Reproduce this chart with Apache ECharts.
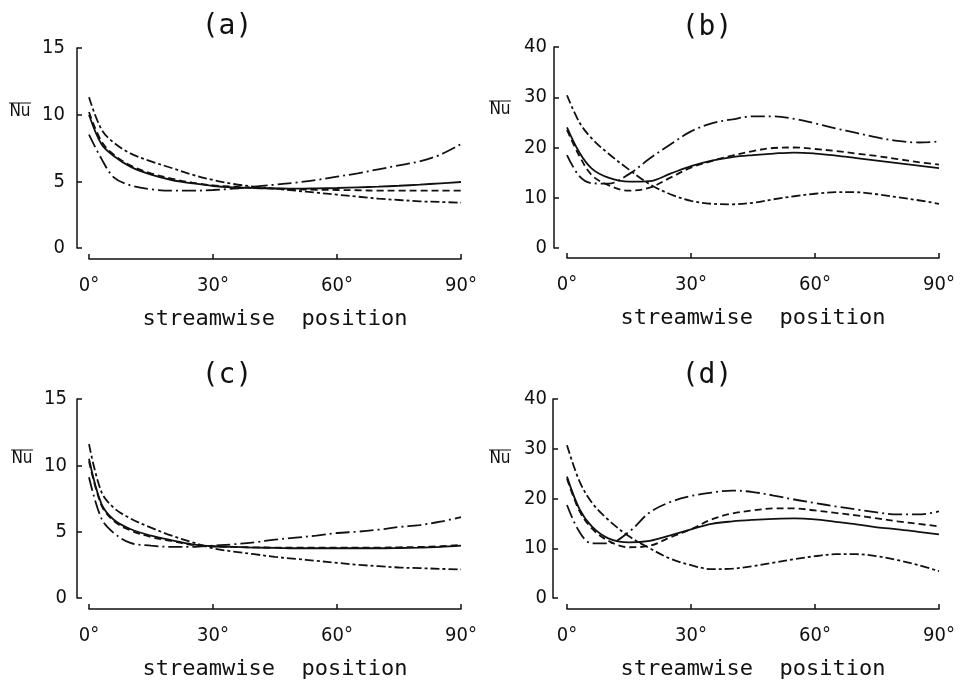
<!doctype html>
<html lang="en">
<head>
    <meta charset="UTF-8">
    <title>Nu - streamwise position</title>
    <script src="https://cdn.jsdelivr.net/npm/echarts@6/dist/echarts.min.js"></script>
    <style>
        body { margin: 0; background: #fff; }
        #chart { width: 964px; height: 685px; }
    </style>
</head>
<body>
<div id="chart"></div>
<script>
    // streamwise position in degrees, shared by every curve
    var angles = [0, 3, 6, 10, 15, 20, 25, 30, 35, 40, 45, 50, 55, 60, 65, 70, 75, 80, 85, 90];

    // (a)
    var aSolid    = [10.0, 7.8, 6.9, 6.1, 5.5, 5.1, 4.85, 4.65, 4.55, 4.5, 4.47, 4.45, 4.47, 4.5, 4.55, 4.6, 4.67, 4.75, 4.85, 4.95];
    var aDashed   = [10.2, 8.0, 7.0, 6.2, 5.6, 5.2, 4.9, 4.7, 4.6, 4.5, 4.45, 4.4, 4.37, 4.35, 4.33, 4.3, 4.3, 4.3, 4.3, 4.3];
    var aDashDot  = [8.5, 6.7, 5.3, 4.7, 4.4, 4.3, 4.3, 4.35, 4.45, 4.6, 4.75, 4.9, 5.1, 5.35, 5.6, 5.9, 6.2, 6.5, 7.0, 7.8];
    var aDashDash = [11.3, 8.9, 7.9, 7.1, 6.5, 6.0, 5.5, 5.1, 4.8, 4.6, 4.45, 4.3, 4.15, 4.0, 3.85, 3.7, 3.6, 3.5, 3.45, 3.4];

    // (b)
    var bSolid    = [24.0, 19.0, 15.8, 14.0, 13.2, 13.3, 14.8, 16.3, 17.4, 18.1, 18.5, 18.8, 19.0, 18.8, 18.4, 17.9, 17.4, 16.9, 16.4, 15.9];
    var bDashed   = [23.5, 18.3, 14.5, 12.5, 11.4, 12.0, 14.0, 16.0, 17.3, 18.4, 19.3, 19.9, 20.0, 19.7, 19.3, 18.8, 18.3, 17.7, 17.1, 16.6];
    var bDashDot  = [18.5, 14.3, 12.9, 12.8, 14.7, 17.8, 20.6, 23.2, 24.8, 25.6, 26.2, 26.2, 25.7, 24.8, 23.8, 22.9, 22.0, 21.3, 21.0, 21.2];
    var bDashDash = [30.4, 25.0, 21.8, 18.8, 15.6, 12.7, 10.7, 9.4, 8.8, 8.7, 9.0, 9.7, 10.3, 10.8, 11.1, 11.1, 10.7, 10.1, 9.5, 8.8];

    // (c)
    var cSolid    = [10.5, 7.1, 5.9, 5.2, 4.7, 4.35, 4.05, 3.9, 3.85, 3.8, 3.78, 3.75, 3.75, 3.75, 3.75, 3.75, 3.77, 3.8, 3.85, 3.95];
    var cDashed   = [10.3, 7.0, 5.8, 5.1, 4.6, 4.3, 4.0, 3.9, 3.85, 3.82, 3.8, 3.8, 3.8, 3.8, 3.8, 3.8, 3.82, 3.85, 3.9, 4.0];
    var cDashDot  = [9.1, 6.0, 4.9, 4.15, 3.95, 3.85, 3.85, 3.95, 4.05, 4.2, 4.4, 4.55, 4.7, 4.9, 5.0, 5.15, 5.35, 5.5, 5.75, 6.1];
    var cDashDash = [11.6, 8.0, 6.8, 6.0, 5.3, 4.7, 4.2, 3.75, 3.5, 3.3, 3.1, 2.95, 2.8, 2.65, 2.5, 2.4, 2.3, 2.25, 2.2, 2.15];

    // (d)
    var dSolid    = [24.4, 17.9, 14.4, 12.0, 11.2, 11.5, 12.6, 13.8, 14.9, 15.4, 15.7, 15.9, 16.0, 15.8, 15.3, 14.8, 14.2, 13.8, 13.3, 12.8];
    var dDashed   = [24.0, 17.5, 14.0, 11.5, 10.2, 10.5, 12.2, 13.8, 15.8, 17.0, 17.6, 18.0, 18.0, 17.6, 17.1, 16.6, 16.0, 15.4, 14.9, 14.4];
    var dDashDot  = [18.7, 13.3, 11.0, 11.0, 13.3, 17.2, 19.3, 20.5, 21.2, 21.6, 21.3, 20.6, 19.8, 19.1, 18.4, 17.8, 17.2, 16.8, 16.8, 17.4];
    var dDashDash = [30.7, 23.5, 19.2, 15.7, 12.4, 10.0, 7.9, 6.6, 5.8, 5.9, 6.4, 7.1, 7.8, 8.4, 8.8, 8.8, 8.4, 7.6, 6.6, 5.4];

    var xName = 'streamwise  position';
    var yName = 'Nu';

    var ink = '#111';
    var tickFont = '"Liberation Sans Narrow", "DejaVu Sans Condensed", "Liberation Sans", sans-serif';
    var monoFont = '"DejaVu Sans Mono", monospace';

    // solid, dashed, long dash-dot, dash-short dash
    var lineTypes = ['solid', [7, 4], [14, 4, 2, 4], [9, 3, 3, 3]];

    var panels = [
        {label: '(a)', curves: [aSolid, aDashed, aDashDot, aDashDash], yMax: 15, yStep: 5,
            left: 89, top: 48, width: 372, height: 200, yOffset: 12, xOffset: 11, labelGap: 12,
            titleX: 227, titleY: 27, nuX: 20, nuY: 112},
        {label: '(b)', curves: [bSolid, bDashed, bDashDot, bDashDash], yMax: 40, yStep: 10,
            left: 567, top: 47, width: 372, height: 201, yOffset: 13, xOffset: 10, labelGap: 7,
            titleX: 707, titleY: 28, nuX: 500, nuY: 110},
        {label: '(c)', curves: [cSolid, cDashed, cDashDot, cDashDash], yMax: 15, yStep: 5,
            left: 89, top: 399, width: 372, height: 199, yOffset: 12, xOffset: 11, labelGap: 10,
            titleX: 227, titleY: 376, nuX: 22, nuY: 459},
        {label: '(d)', curves: [dSolid, dDashed, dDashDot, dDashDash], yMax: 40, yStep: 10,
            left: 567, top: 399, width: 372, height: 199, yOffset: 14, xOffset: 11, labelGap: 6,
            titleX: 707, titleY: 376, nuX: 500, nuY: 459}
    ];

    var grid = [], xAxis = [], yAxis = [], series = [], graphic = [];

    panels.forEach(function (p, i) {
        grid.push({left: p.left, top: p.top, width: p.width, height: p.height, outerBoundsMode: 'none'});

        xAxis.push({
            type: 'value', gridIndex: i, min: 0, max: 90, interval: 30, offset: p.xOffset,
            axisLine: {onZero: false, lineStyle: {color: ink, width: 1.5}},
            axisTick: {inside: true, length: 5, lineStyle: {color: ink, width: 1.5}},
            axisLabel: {formatter: '{value}°', fontFamily: tickFont, fontSize: 20, color: ink, margin: 17},
            splitLine: {show: false},
            name: xName, nameLocation: 'middle', nameGap: 49,
            nameTextStyle: {fontFamily: monoFont, fontSize: 22, color: ink}
        });

        yAxis.push({
            type: 'value', gridIndex: i, min: 0, max: p.yMax, interval: p.yStep, offset: p.yOffset,
            axisLine: {show: true, onZero: false, lineStyle: {color: ink, width: 1.5}},
            axisTick: {show: true, inside: true, length: 5, lineStyle: {color: ink, width: 1.5}},
            axisLabel: {fontFamily: tickFont, fontSize: 20, color: ink, margin: p.labelGap},
            splitLine: {show: false}
        });

        p.curves.forEach(function (vals, j) {
            series.push({
                type: 'line', xAxisIndex: i, yAxisIndex: i,
                data: angles.map(function (a, k) { return [a, vals[k]]; }),
                smooth: 0.35, symbol: 'none', silent: true,
                lineStyle: {color: ink, width: 1.8, type: lineTypes[j]}
            });
        });

        // panel letter
        graphic.push({
            type: 'text',
            style: {text: p.label, x: p.titleX, y: p.titleY, textAlign: 'center', textVerticalAlign: 'middle',
                font: '28px ' + monoFont, fill: ink}
        });
        // Nu with an overbar
        graphic.push({
            type: 'text',
            style: {text: yName, x: p.nuX, y: p.nuY, textAlign: 'center', textVerticalAlign: 'middle',
                font: '17px ' + tickFont, fill: ink}
        });
        graphic.push({
            type: 'line',
            shape: {x1: p.nuX - 11, y1: p.nuY - 9, x2: p.nuX + 11, y2: p.nuY - 9},
            style: {stroke: ink, lineWidth: 1}
        });
    });

    var chart = echarts.init(document.getElementById('chart'), null, {renderer: 'canvas'});
    chart.setOption({
        animation: false,
        backgroundColor: '#fff',
        grid: grid,
        xAxis: xAxis,
        yAxis: yAxis,
        series: series,
        graphic: graphic
    });
</script>
</body>
</html>
